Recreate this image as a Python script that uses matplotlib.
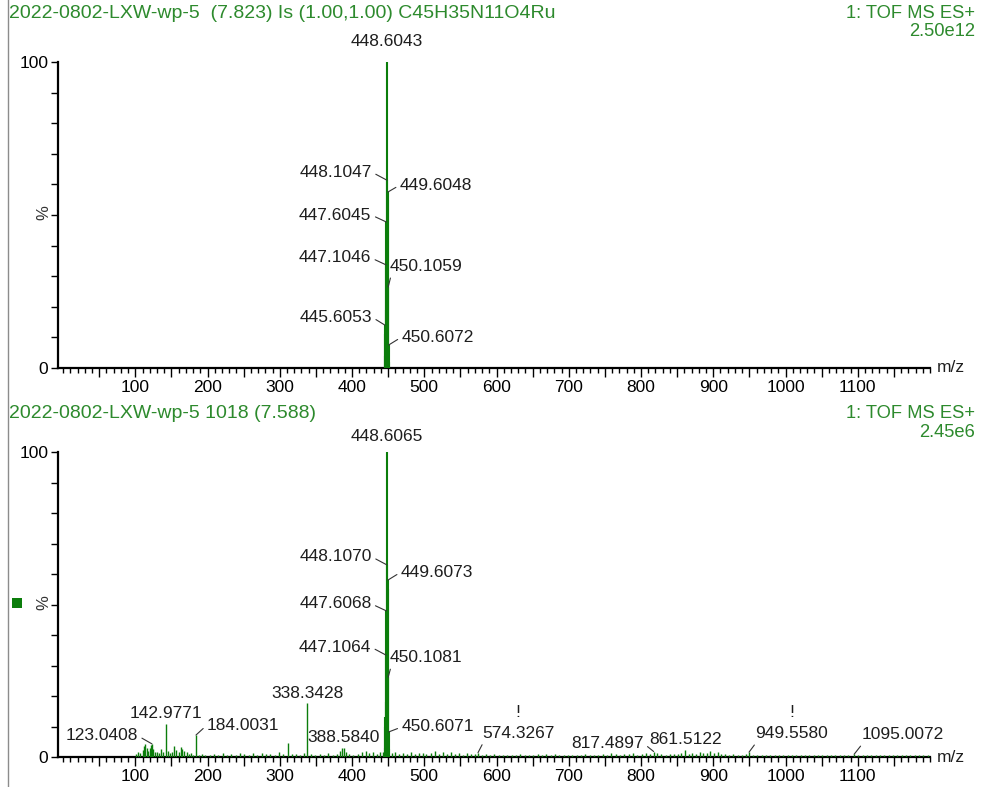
import matplotlib
matplotlib.use("Agg")
import matplotlib.pyplot as plt
from matplotlib.ticker import FixedLocator, MultipleLocator, FuncFormatter
from matplotlib.lines import Line2D
from matplotlib.patches import Rectangle

plt.rcParams['font.family'] = ['Liberation Sans', 'DejaVu Sans']

# ---------------- data ----------------
# top: theoretical isotope model
top_mz = [445.1, 445.6053, 446.1, 446.6, 447.1046, 447.6045, 448.1047,
          448.6043, 449.1, 449.6048, 450.1059, 450.6072, 451.1]
top_int = [4, 14, 11, 19, 33.7, 47.7, 61.4, 100, 55, 57.5, 26.5, 7.5, 2]
top_labels = ["445.6053", "447.1046", "447.6045", "448.1047", "448.6043",
              "449.6048", "450.1059", "450.6072"]

# bottom: measured spectrum, main cluster
bot_mz = [445.1, 445.6, 446.1, 446.6, 447.1064, 447.6068, 448.1070,
          448.6065, 449.1, 449.6073, 450.1081, 450.6071, 451.1]
bot_int = [3, 13, 10, 18, 33.4, 47.9, 63, 100, 55, 58, 26.2, 8.2, 2.5]

# bottom: smaller peaks (m/z, %)
small_mz = [101, 104, 107, 110, 112, 114, 116, 118, 120, 122, 123.0408, 125, 127,
            130, 133, 136, 139, 142.9771, 145, 148, 151, 154, 157, 160, 163, 165,
            168, 171, 174, 177, 180, 184.0031, 188, 192, 197,
            203, 209, 215, 221, 227, 233, 239, 245, 251, 257, 263, 269, 275, 281,
            287, 293, 299, 305, 311, 317, 322, 328, 333, 338.3428, 343, 349, 355,
            361, 367, 373, 379, 384, 386, 388.5840, 391, 396, 402, 408, 414, 419,
            424, 429, 434, 439, 443,
            455, 460, 465, 470, 476, 481, 487, 492, 498, 503, 509, 515, 520, 526,
            531, 537, 542, 548, 553, 559, 565, 570, 574.3267, 580, 586, 591, 597,
            603, 609, 615, 621, 627, 633, 639, 645, 651, 657, 663, 669, 675, 681,
            687, 693, 699, 705, 711, 717, 723, 729, 735, 741, 747, 753, 759, 765,
            771, 777, 783, 789, 795, 801, 807, 812, 817.4897, 822, 828, 834, 840,
            846, 851, 856, 861.5122, 866, 871, 876, 881, 886, 891, 896, 901, 906,
            911, 916, 922, 928, 934, 940, 945, 949.5580, 955, 961, 967, 973, 979,
            985, 991, 997, 1003, 1009, 1015, 1021, 1027, 1033, 1039, 1045, 1051,
            1057, 1063, 1069, 1075, 1081, 1087, 1095.0072, 1101, 1107, 1113, 1119,
            1125, 1131, 1137, 1143, 1149, 1155, 1161, 1167, 1173, 1179, 1185, 1191,
            1197]
small_int = [1.0, 1.5, 1.2, 2.2, 3.5, 4.2, 3.0, 2.0, 2.8, 4.0, 4.3, 2.5, 1.5,
             1.8, 1.2, 2.5, 1.5, 10.8, 2.0, 1.2, 1.5, 3.6, 2.2, 1.5, 3.2, 2.5,
             2.0, 1.5, 1.0, 1.2, 0.8, 7.2, 0.8, 1.0, 0.7,
             0.8, 1.0, 0.7, 1.2, 0.8, 1.0, 0.7, 1.2, 0.9, 0.8, 1.3, 0.8, 1.2, 0.9,
             1.0, 0.7, 1.5, 1.0, 4.6, 0.9, 1.1, 0.8, 1.2, 17.7, 1.0, 0.8, 1.0,
             0.7, 1.2, 0.8, 1.0, 2.0, 2.8, 3.0, 1.5, 0.9, 0.8, 1.0, 1.5, 2.0,
             1.2, 1.5, 1.0, 1.8, 1.5,
             1.2, 1.5, 1.0, 1.3, 1.0, 1.5, 0.9, 1.2, 1.4, 1.0, 1.2, 2.0, 1.1, 1.5,
             0.9, 1.8, 1.0, 1.3, 0.8, 1.2, 0.9, 1.0, 1.4, 0.8, 1.0, 0.7, 0.9,
             0.7, 0.8, 0.6, 0.8, 0.7, 0.9, 0.6, 0.8, 0.7, 0.9, 0.8, 1.0, 0.7, 0.9,
             0.8, 0.7, 0.8, 0.6, 0.8, 0.7, 0.9, 0.7, 0.8, 0.7, 1.0, 0.8, 1.2, 0.9,
             0.8, 1.1, 0.9, 1.3, 0.8, 1.0, 1.2, 0.9, 1.8, 1.2, 1.0, 0.8, 1.1,
             0.9, 1.0, 1.2, 2.4, 1.0, 1.3, 1.0, 1.5, 1.2, 1.4, 1.9, 1.3, 1.8,
             1.0, 0.9, 0.8, 0.9, 0.7, 0.8, 1.0, 1.6, 0.8, 0.7, 0.6, 0.7, 0.6,
             0.5, 0.6, 0.7, 0.5, 0.6, 0.5, 0.6, 0.5, 0.6, 0.5, 0.7, 0.5,
             0.6, 0.5, 0.6, 0.5, 0.6, 0.5, 0.9, 0.5, 0.6, 0.5, 0.6,
             0.5, 0.6, 0.5, 0.5, 0.6, 0.5, 0.5, 0.6, 0.5, 0.5, 0.6, 0.5,
             0.5]
bot_labels = ["123.0408", "142.9771", "184.0031", "338.3428", "388.5840",
              "447.1064", "447.6068", "448.1070", "448.6065", "449.6073",
              "450.1081", "450.6071", "!\n574.3267", "817.4897", "861.5122",
              "!\n949.5580", "1095.0072"]

top_title = "2022-0802-LXW-wp-5  (7.823) Is (1.00,1.00) C45H35N11O4Ru"
bot_title = "2022-0802-LXW-wp-5 1018 (7.588)"
scan_fn = "1: TOF MS ES+"
top_scale = "2.50e12"
bot_scale = "2.45e6"

# ---------------- layout of peak labels (pixels from peak top) ----------------
# text: (dx, dy, ha, va, leader relpos or None)
L = (1, 0.5)
R = (0, 0.5)
BL = (0.03, 0.0)
lab_pos = {
    "448.6043": (0, 20, 'center', 'center', None),
    "448.1047": (-15, 8, 'right', 'center', L),
    "449.6048": (12, 7, 'left', 'center', R),
    "447.6045": (-15, 7, 'right', 'center', L),
    "447.1046": (-15, 7, 'right', 'center', L),
    "450.1059": (1, 13, 'left', 'bottom', BL),
    "445.6053": (-13, 8, 'right', 'center', L),
    "450.6072": (13, 8, 'left', 'center', R),
    "448.6065": (0, 15, 'center', 'center', None),
    "448.1070": (-15, 8, 'right', 'center', L),
    "449.6073": (13, 8, 'left', 'center', R),
    "447.6068": (-15, 7, 'right', 'center', L),
    "447.1064": (-15, 8, 'right', 'center', L),
    "450.1081": (1, 12, 'left', 'bottom', BL),
    "450.6071": (13, 5, 'left', 'center', R),
    "123.0408": (-14, 8, 'right', 'center', L),
    "142.9771": (0, 11, 'center', 'center', None),
    "184.0031": (11, 10, 'left', 'center', R),
    "338.3428": (0, 10, 'center', 'center', None),
    "388.5840": (0, 10, 'center', 'center', None),
    "!\n574.3267": (4, 12, 'left', 'bottom', BL),
    "817.4897": (-10, 8, 'right', 'center', L),
    "861.5122": (0, 10, 'center', 'center', None),
    "!\n949.5580": (6, 11, 'left', 'bottom', BL),
    "1095.0072": (7, 12, 'left', 'bottom', BL),
}

GREEN = '#0b7d0b'
TGREEN = '#2d8a2d'
W, H = 985, 787

fig = plt.figure(figsize=(W / 100, H / 100), dpi=100)
fig.patch.set_facecolor('white')


def setup_axis(ax):
    ax.set_xlim(-7, 1200)
    ax.set_ylim(0, 100)
    for s in ['top', 'right']:
        ax.spines[s].set_visible(False)
    for s in ['left', 'bottom']:
        ax.spines[s].set_linewidth(1.6)
    ax.xaxis.set_major_locator(FixedLocator(list(range(50, 1200, 50))))
    ax.xaxis.set_major_formatter(FuncFormatter(lambda v, p: str(int(v)) if v % 100 == 0 else ''))
    ax.xaxis.set_minor_locator(MultipleLocator(10))
    ax.yaxis.set_major_locator(FixedLocator([0, 100]))
    ax.yaxis.set_minor_locator(MultipleLocator(10))
    ax.tick_params(axis='x', which='major', length=6.5, width=1, pad=2, labelsize=12.5)
    ax.tick_params(axis='x', which='minor', length=3.5, width=1)
    ax.tick_params(axis='y', which='major', length=5, width=1, pad=2, labelsize=12.5)
    ax.tick_params(axis='y', which='minor', length=5, width=1)


def label_peaks(ax, mzs, ints, labels):
    for t in labels:
        key = t.replace("!\n", "")
        i = min(range(len(mzs)), key=lambda k: abs(mzs[k] - float(key)))
        dx, dy, ha, va, rel = lab_pos[t]
        kw = {}
        if rel is not None:
            kw['arrowprops'] = dict(arrowstyle='-', lw=0.8, color='#333333',
                                    shrinkA=1, shrinkB=0, relpos=rel)
        ax.annotate(t, xy=(mzs[i], ints[i]), xytext=(dx, dy),
                    textcoords='offset pixels', ha=ha, va=va,
                    multialignment='center', linespacing=1.5,
                    fontsize=12.5, color='#1e1e1e', annotation_clip=False, **kw)


ax1 = fig.add_axes([58 / W, 1 - 368 / H, 872 / W, 306 / H])
setup_axis(ax1)
ax1.vlines(top_mz, 0, top_int, color=GREEN, lw=1.5, zorder=3)
label_peaks(ax1, top_mz, top_int, top_labels)

ax2 = fig.add_axes([58 / W, 1 - 757 / H, 872 / W, 305 / H])
setup_axis(ax2)
ax2.vlines(small_mz, 0, small_int, color=GREEN, lw=1.0, zorder=3)
ax2.vlines(bot_mz, 0, bot_int, color=GREEN, lw=1.5, zorder=3)
label_peaks(ax2, small_mz + bot_mz, small_int + bot_int, bot_labels)

# header texts
fs_l = 14
fs_r = 13.2
fig.text(9 / W, 1 - 13 / H, top_title, color=TGREEN, fontsize=fs_l, va='center', ha='left')
fig.text(975 / W, 1 - 13 / H, scan_fn, color=TGREEN, fontsize=fs_r, va='center', ha='right')
fig.text(975 / W, 1 - 32 / H, top_scale, color=TGREEN, fontsize=fs_r, va='center', ha='right')
fig.text(9 / W, 1 - 413 / H, bot_title, color=TGREEN, fontsize=fs_l, va='center', ha='left')
fig.text(975 / W, 1 - 413 / H, scan_fn, color=TGREEN, fontsize=fs_r, va='center', ha='right')
fig.text(975 / W, 1 - 432 / H, bot_scale, color=TGREEN, fontsize=fs_r, va='center', ha='right')

for yc in [213, 603]:
    fig.text(44 / W, 1 - yc / H, "%", rotation=90, fontsize=12, va='center', ha='center', color='#333333')
for yc in [368, 757]:
    fig.text(937 / W, 1 - yc / H, "m/z", fontsize=12.5, va='center', ha='left', color='#1e1e1e')

# left frame line and green marker
fig.add_artist(Line2D([8 / W, 8 / W], [0, 1], transform=fig.transFigure, color='#8c8c8c', lw=1))
fig.add_artist(Rectangle((12 / W, 1 - 608 / H), 10 / W, 10 / H, transform=fig.transFigure,
                         facecolor=GREEN, edgecolor='none'))

fig.savefig("out.png", dpi=100)
